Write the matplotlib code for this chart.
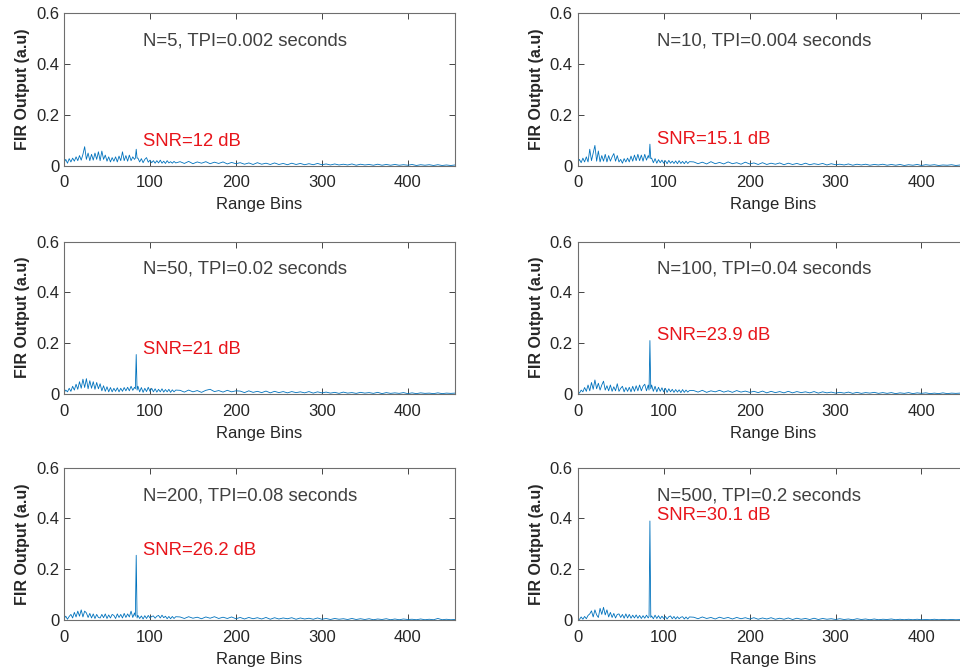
import numpy as np
import matplotlib.pyplot as plt

plt.rcParams['font.family'] = ['Liberation Sans', 'DejaVu Sans']

# range bins: every 2nd bin up to the target, single bins round it, coarser further out
bins = np.concatenate([np.arange(0, 83, 2), [83, 84, 85],
                       np.arange(86, 131, 2), np.arange(135, 456, 5)])

fir_n5 = [0.012, 0.025, 0.01, 0.028, 0.015, 0.03, 0.018, 0.035, 0.02, 0.04,
          0.022, 0.045, 0.075, 0.025, 0.05, 0.02, 0.045, 0.022, 0.05, 0.025,
          0.055, 0.02, 0.058, 0.025, 0.042, 0.018, 0.035, 0.015, 0.032, 0.018,
          0.035, 0.015, 0.038, 0.02, 0.055, 0.02, 0.04, 0.018, 0.042, 0.02,
          0.035, 0.025,
          0.03, 0.065, 0.03,
          0.03, 0.015, 0.028, 0.012, 0.025, 0.032, 0.014, 0.022, 0.012, 0.02,
          0.01, 0.02, 0.011, 0.022, 0.01, 0.018, 0.009, 0.02, 0.011, 0.016,
          0.01, 0.017, 0.011,
          0.016, 0.009, 0.017, 0.008, 0.015, 0.01, 0.016, 0.008, 0.014, 0.009,
          0.015, 0.007, 0.013, 0.008,
          0.012, 0.006, 0.011, 0.005, 0.012, 0.006, 0.01, 0.005, 0.011, 0.005,
          0.009, 0.004, 0.01, 0.005, 0.009, 0.004, 0.008, 0.004, 0.009, 0.004,
          0.007, 0.003, 0.007, 0.003, 0.006, 0.003, 0.007, 0.002, 0.006, 0.003,
          0.005, 0.002, 0.006, 0.002, 0.005, 0.002, 0.005, 0.002, 0.004, 0.002,
          0.005, 0.001, 0.004, 0.002, 0.004, 0.001, 0.004, 0.001, 0.003, 0.001,
          0.003]

fir_n10 = [0.01, 0.025, 0.012, 0.03, 0.015, 0.035, 0.015, 0.065, 0.02, 0.05,
           0.08, 0.018, 0.058, 0.015, 0.04, 0.018, 0.045, 0.015, 0.04, 0.018,
           0.035, 0.048, 0.018, 0.04, 0.015, 0.025, 0.01, 0.028, 0.015, 0.03,
           0.015, 0.038, 0.018, 0.042, 0.02, 0.045, 0.02, 0.042, 0.018, 0.045,
           0.022, 0.04,
           0.03, 0.085, 0.028,
           0.03, 0.012, 0.028, 0.01, 0.024, 0.012, 0.022, 0.01, 0.02, 0.008,
           0.021, 0.01, 0.018, 0.009, 0.019, 0.008, 0.02, 0.009, 0.017, 0.008,
           0.018, 0.009, 0.016,
           0.015, 0.008, 0.014, 0.007, 0.016, 0.008, 0.013, 0.007, 0.015, 0.008,
           0.012, 0.006, 0.014, 0.007,
           0.011, 0.005, 0.012, 0.005, 0.01, 0.006, 0.011, 0.004, 0.01, 0.005,
           0.009, 0.004, 0.01, 0.004, 0.008, 0.005, 0.009, 0.003, 0.008, 0.004,
           0.006, 0.003, 0.007, 0.002, 0.006, 0.003, 0.006, 0.002, 0.005, 0.003,
           0.006, 0.002, 0.005, 0.002, 0.005, 0.001, 0.004, 0.002, 0.005, 0.001,
           0.004, 0.002, 0.004, 0.001, 0.003, 0.002, 0.004, 0.001, 0.003, 0.001,
           0.003]

fir_n50 = [0.005, 0.015, 0.008, 0.022, 0.01, 0.03, 0.015, 0.038, 0.018, 0.048,
           0.022, 0.058, 0.025, 0.06, 0.02, 0.052, 0.022, 0.048, 0.018, 0.045,
           0.02, 0.04, 0.012, 0.032, 0.01, 0.028, 0.008, 0.025, 0.008, 0.022,
           0.01, 0.024, 0.008, 0.022, 0.01, 0.025, 0.012, 0.026, 0.012, 0.03,
           0.014, 0.026,
           0.02, 0.155, 0.015,
           0.03, 0.008, 0.025, 0.006, 0.022, 0.009, 0.026, 0.01, 0.022, 0.008,
           0.02, 0.007, 0.018, 0.008, 0.02, 0.007, 0.017, 0.008, 0.018, 0.006,
           0.016, 0.008, 0.015,
           0.014, 0.007, 0.015, 0.008, 0.013, 0.006, 0.014, 0.018, 0.009, 0.013,
           0.007, 0.014, 0.008, 0.012,
           0.011, 0.005, 0.012, 0.006, 0.01, 0.005, 0.011, 0.004, 0.01, 0.005,
           0.009, 0.004, 0.009, 0.005, 0.008, 0.004, 0.009, 0.003, 0.008, 0.004,
           0.007, 0.003, 0.006, 0.002, 0.007, 0.003, 0.005, 0.002, 0.006, 0.003,
           0.005, 0.002, 0.006, 0.001, 0.005, 0.002, 0.004, 0.002, 0.005, 0.001,
           0.004, 0.001, 0.004, 0.002, 0.003, 0.001, 0.004, 0.001, 0.003, 0.002,
           0.003]

fir_n100 = [0.008, 0.003, 0.015, 0.008, 0.025, 0.01, 0.035, 0.012, 0.045, 0.018,
            0.055, 0.02, 0.042, 0.015, 0.035, 0.05, 0.015, 0.032, 0.012, 0.035,
            0.01, 0.028, 0.012, 0.04, 0.01, 0.022, 0.03, 0.008, 0.025, 0.01,
            0.026, 0.008, 0.03, 0.01, 0.032, 0.012, 0.035, 0.012, 0.03, 0.038,
            0.012, 0.035,
            0.015, 0.21, 0.02,
            0.035, 0.01, 0.03, 0.008, 0.026, 0.01, 0.024, 0.008, 0.022, 0.006,
            0.02, 0.008, 0.018, 0.006, 0.017, 0.007, 0.016, 0.005, 0.017, 0.006,
            0.015, 0.007, 0.013,
            0.013, 0.007, 0.014, 0.006, 0.012, 0.008, 0.014, 0.007, 0.012, 0.006,
            0.013, 0.007, 0.011, 0.006,
            0.01, 0.005, 0.011, 0.004, 0.01, 0.005, 0.009, 0.004, 0.01, 0.004,
            0.009, 0.005, 0.008, 0.004, 0.009, 0.003, 0.008, 0.004, 0.007, 0.003,
            0.006, 0.003, 0.007, 0.002, 0.006, 0.002, 0.005, 0.003, 0.006, 0.002,
            0.005, 0.002, 0.005, 0.001, 0.004, 0.002, 0.005, 0.001, 0.004, 0.002,
            0.004, 0.001, 0.003, 0.001, 0.004, 0.001, 0.003, 0.002, 0.003, 0.001,
            0.002]

fir_n200 = [0.005, 0.015, 0.003, 0.014, 0.022, 0.008, 0.03, 0.012, 0.035, 0.015,
            0.04, 0.012, 0.035, 0.028, 0.01, 0.026, 0.008, 0.024, 0.006, 0.022,
            0.01, 0.008, 0.022, 0.009, 0.024, 0.006, 0.02, 0.008, 0.022, 0.018,
            0.006, 0.024, 0.01, 0.022, 0.008, 0.026, 0.01, 0.024, 0.012, 0.035,
            0.01, 0.028,
            0.015, 0.255, 0.008,
            0.018, 0.006, 0.016, 0.004, 0.017, 0.006, 0.018, 0.008, 0.014, 0.016,
            0.007, 0.015, 0.018, 0.008, 0.019, 0.009, 0.015, 0.005, 0.014, 0.005,
            0.014, 0.006, 0.013,
            0.012, 0.006, 0.013, 0.007, 0.011, 0.005, 0.012, 0.007, 0.013, 0.006,
            0.011, 0.006, 0.012, 0.005,
            0.01, 0.004, 0.01, 0.005, 0.009, 0.004, 0.01, 0.003, 0.009, 0.004,
            0.008, 0.005, 0.009, 0.003, 0.008, 0.004, 0.007, 0.003, 0.008, 0.003,
            0.006, 0.002, 0.006, 0.003, 0.005, 0.002, 0.006, 0.002, 0.005, 0.002,
            0.005, 0.001, 0.004, 0.002, 0.005, 0.001, 0.004, 0.001, 0.004, 0.002,
            0.003, 0.001, 0.004, 0.001, 0.003, 0.001, 0.006, 0.001, 0.003, 0.001,
            0.002]

fir_n500 = [0.006, 0.002, 0.012, 0.003, 0.014, 0.005, 0.018, 0.024, 0.036, 0.012,
            0.04, 0.02, 0.01, 0.046, 0.022, 0.05, 0.02, 0.04, 0.012, 0.03,
            0.01, 0.026, 0.008, 0.022, 0.024, 0.01, 0.022, 0.007, 0.024, 0.008,
            0.022, 0.007, 0.019, 0.008, 0.02, 0.007, 0.018, 0.006, 0.017, 0.007,
            0.019, 0.008,
            0.014, 0.39, 0.01,
            0.016, 0.005, 0.019, 0.006, 0.017, 0.005, 0.015, 0.006, 0.014, 0.004,
            0.013, 0.016, 0.005, 0.014, 0.004, 0.013, 0.005, 0.011, 0.013, 0.004,
            0.012, 0.004, 0.012,
            0.011, 0.005, 0.012, 0.006, 0.01, 0.004, 0.011, 0.006, 0.01, 0.004,
            0.01, 0.005, 0.009, 0.004,
            0.009, 0.003, 0.008, 0.004, 0.009, 0.003, 0.007, 0.003, 0.008, 0.002,
            0.007, 0.003, 0.006, 0.002, 0.007, 0.002, 0.006, 0.003, 0.005, 0.002,
            0.005, 0.002, 0.004, 0.001, 0.005, 0.002, 0.004, 0.001, 0.004, 0.001,
            0.003, 0.002, 0.004, 0.001, 0.003, 0.001, 0.003, 0.001, 0.003, 0.001,
            0.002, 0.001, 0.003, 0.001, 0.002, 0.001, 0.002, 0.001, 0.002, 0.001,
            0.002]

series = [fir_n5, fir_n10, fir_n50, fir_n100, fir_n200, fir_n500]
titles = ['N=5, TPI=0.002 seconds', 'N=10, TPI=0.004 seconds',
          'N=50, TPI=0.02 seconds', 'N=100, TPI=0.04 seconds',
          'N=200, TPI=0.08 seconds', 'N=500, TPI=0.2 seconds']
snr_db = ['12', '15.1', '21', '23.9', '26.2', '30.1']

fig = plt.figure(figsize=(9.6, 6.71), dpi=100)

# axes boxes in figure fractions; right column runs off the edge
col_x = [0.0667, 0.6018]
row_y = [0.753, 0.413, 0.076]
w, h = 0.4073, 0.227

for i, y in enumerate(series):
    r, c = divmod(i, 2)
    ax = fig.add_axes([col_x[c], row_y[r], w, h])
    ax.plot(bins, y, color='#0072BD', lw=0.6)
    ax.set_xlim(0, 455)
    ax.set_ylim(0, 0.6)
    ax.set_xticks([0, 100, 200, 300, 400])
    ax.set_yticks([0, 0.2, 0.4, 0.6])
    ax.set_yticklabels(['0', '0.2', '0.4', '0.6'])
    ax.tick_params(direction='in', top=True, right=True, length=4,
                   labelsize=12, colors='#262626', width=0.6)
    ax.tick_params(axis='x', pad=7)
    for s in ax.spines.values():
        s.set_color('#6e6e6e')
        s.set_linewidth(0.8)
    ax.set_xlabel('Range Bins', fontsize=12, color='#262626', labelpad=5)
    ax.set_ylabel('FIR Output (a.u)', fontsize=11.5, fontweight='bold',
                  color='#262626', labelpad=4)
    ax.text(92, 0.49, titles[i], fontsize=13.3, color='#404040', va='center')
    ax.text(92, max(y) + 0.02, 'SNR=' + snr_db[i] + ' dB', fontsize=13.3,
            color='#e8151b', va='center')

fig.savefig('out.png', dpi=100)
